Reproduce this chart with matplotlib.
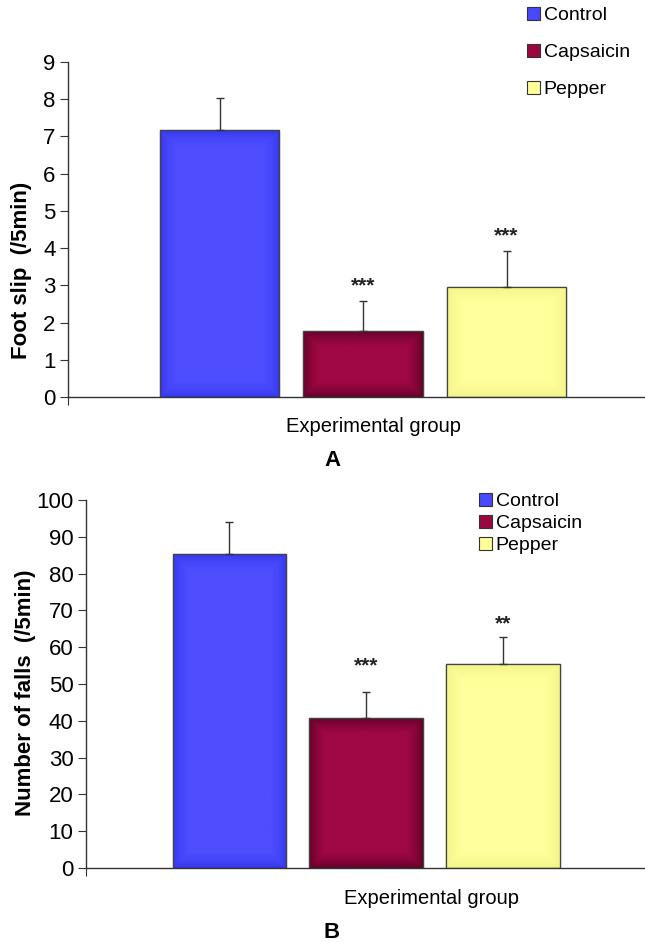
import matplotlib
matplotlib.use("Agg")
import matplotlib.pyplot as plt
import numpy as np
from matplotlib.colors import to_rgb
from matplotlib.patches import Patch

plt.rcParams['font.family'] = ['Liberation Sans', 'DejaVu Sans']

groups = ["Control", "Capsaicin", "Pepper"]
colors = ["#4848FF", "#9A0840", "#FFFF99"]
# cor do centro e da borda (degradê das barras)
centro = ["#4E4EFF", "#A00844", "#FFFF9C"]
borda = ["#3434EE", "#5E0026", "#F2F288"]

# painel A - foot slip
slip_mean = [7.16, 1.77, 2.96]
slip_err = [0.88, 0.82, 0.97]
slip_stars = ["", "***", "***"]
slip_star_off = [0, 0.15, 0.15]

# painel B - number of falls
falls_mean = [85.3, 40.7, 55.3]
falls_err = [8.6, 7.2, 7.5]
falls_stars = ["", "***", "**"]
falls_star_off = [0, 4.5, 1.0]

fig = plt.figure(figsize=(6.45, 9.43), dpi=100)


def degrade(ax, bar, c_centro, c_borda):
    x0, y0 = bar.get_x(), bar.get_y()
    w, h = bar.get_width(), bar.get_height()
    p0 = ax.transData.transform((x0, y0))
    p1 = ax.transData.transform((x0 + w, y0 + h))
    wpx, hpx = abs(p1[0] - p0[0]), abs(p1[1] - p0[1])
    nx, ny = max(int(wpx), 2), max(int(hpx), 2)
    xs = np.linspace(0, wpx, nx)
    ys = np.linspace(0, hpx, ny)
    X, Y = np.meshgrid(xs, ys)
    d = np.minimum(np.minimum(X, wpx - X), np.minimum(Y, hpx - Y))
    t = np.clip(d / 16.0, 0, 1) ** 0.6
    c1, c2 = np.array(to_rgb(c_centro)), np.array(to_rgb(c_borda))
    img = c2 + (c1 - c2) * t[..., None]
    im = ax.imshow(img, extent=(x0, x0 + w, y0, y0 + h), aspect="auto", origin="lower",
                   zorder=2, interpolation="bilinear")
    im.set_clip_path(bar)


def painel(rect, means, errs, stars, star_off, ymax, ystep, xlim, ylabel, letra, letra_y, xlab_x, xlab_y):
    ax = fig.add_axes(rect)
    pos = list(range(len(groups)))
    ax.set_xlim(*xlim)
    ax.set_ylim(0, ymax)
    bars = ax.bar(pos, means, width=0.83, color=colors, edgecolor="#444444", linewidth=0.9, zorder=1)
    for b, c1, c2 in zip(bars, centro, borda):
        degrade(ax, b, c1, c2)
        ax.add_patch(plt.Rectangle((b.get_x(), b.get_y()), b.get_width(), b.get_height(),
                                   fill=False, edgecolor="#444444", linewidth=0.9, zorder=3))
    ax.set_xlim(*xlim)
    ax.set_ylim(0, ymax)
    ax.errorbar(pos, means, yerr=[[0] * len(errs), errs], fmt="none", ecolor="#333333",
                elinewidth=1.0, capsize=3, capthick=1.0, zorder=4)
    for p, m, e, s, o in zip(pos, means, errs, stars, star_off):
        if s:
            ax.text(p, m + e + o, s, ha="center", va="bottom", fontsize=15,
                    fontweight="bold", color="#222222")
    ax.set_yticks(range(0, ymax + 1, ystep))
    ax.set_xticks([xlim[0]])
    ax.set_xticklabels([])
    ax.tick_params(axis="x", direction="out", length=6, color="#333333")
    ax.tick_params(axis="y", direction="out", length=6, labelsize=16, color="#333333", pad=3)
    for sp in ["top", "right"]:
        ax.spines[sp].set_visible(False)
    for sp in ["left", "bottom"]:
        ax.spines[sp].set_color("#333333")
        ax.spines[sp].set_linewidth(1.0)
    ax.set_ylabel(ylabel, fontsize=16, fontweight="bold")
    fig.text(xlab_x, xlab_y, "Experimental group", ha="center", va="center", fontsize=14.5)
    fig.text(332 / 645, letra_y, letra, ha="center", va="center", fontsize=16, fontweight="bold")
    return ax


axA = painel([68 / 645, 1 - 397 / 943, 1 - 68 / 645, 335 / 943], slip_mean, slip_err, slip_stars,
             slip_star_off, 9, 1, (-1.056, 2.965), "Foot slip  (/5min)", "A", 1 - 460 / 943,
             374 / 645, 1 - 426 / 943)
axA.yaxis.set_label_coords(-0.062, 0.379)

axB = painel([86 / 645, 1 - 868 / 943, 1 - 86 / 645, 368 / 943], falls_mean, falls_err, falls_stars,
             falls_star_off, 100, 10, (-1.047, 3.036), "Number of falls  (/5min)", "B", 1 - 933 / 943,
             432 / 645, 1 - 898 / 943)
axB.yaxis.set_label_coords(-0.089, 0.476)

handles = [Patch(facecolor=c, edgecolor="#333333", linewidth=0.8) for c in colors]
fig.legend(handles, groups, loc="upper left", bbox_to_anchor=(527 / 645, 1 - 7 / 943), frameon=False,
           fontsize=14, handlelength=0.65, handleheight=0.65, handletextpad=0.2, labelspacing=1.0,
           borderpad=0, borderaxespad=0)
fig.legend(handles, groups, loc="upper left", bbox_to_anchor=(479 / 645, 1 - 493 / 943), frameon=False,
           fontsize=14, handlelength=0.65, handleheight=0.65, handletextpad=0.2, labelspacing=0.24,
           borderpad=0, borderaxespad=0)

fig.savefig("out.png", dpi=100)
